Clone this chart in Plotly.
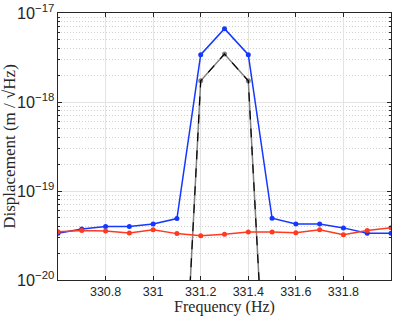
import plotly.graph_objects as go

# ── Data
freq = [330.6, 330.7, 330.8, 330.9, 331.0, 331.1, 331.2, 331.3,
        331.4, 331.5, 331.6, 331.7, 331.8, 331.9, 332.0]

blue = [3.35e-20, 3.75e-20, 4.0e-20, 4.0e-20, 4.27e-20, 4.9e-20, 3.4e-18, 6.66e-18,
        3.4e-18, 4.94e-20, 4.27e-20, 4.27e-20, 3.85e-20, 3.35e-20, 3.35e-20]

red = [3.49e-20, 3.59e-20, 3.56e-20, 3.38e-20, 3.68e-20, 3.32e-20, 3.15e-20, 3.27e-20,
       3.47e-20, 3.47e-20, 3.40e-20, 3.66e-20, 3.23e-20, 3.59e-20, 3.87e-20]

peak_freq = [331.1, 331.2, 331.3, 331.4, 331.5]
peak = [1.3e-23, 1.73e-18, 3.46e-18, 1.73e-18, 1.9e-23]

xtick_vals = [330.8, 331.0, 331.2, 331.4, 331.6, 331.8]
xtick_text = ["330.8", "331", "331.2", "331.4", "331.6", "331.8"]

BLUE = "#1438ff"
RED = "#ff3a1f"
GRAY = "#808080"

fig = go.Figure()
fig.add_trace(go.Scatter(
    x=peak_freq, y=peak, mode="lines+markers",
    line=dict(color=GRAY, width=1.5),
    marker=dict(color=GRAY, size=5),
))
fig.add_trace(go.Scatter(
    x=peak_freq, y=peak, mode="lines",
    line=dict(color="black", width=1.2, dash="dash"),
))
fig.add_trace(go.Scatter(
    x=freq, y=blue, mode="lines+markers",
    line=dict(color=BLUE, width=1.5),
    marker=dict(color=BLUE, size=5),
))
fig.add_trace(go.Scatter(
    x=freq, y=red, mode="lines+markers",
    line=dict(color=RED, width=1.5),
    marker=dict(color=RED, size=5),
))

axis_common = dict(
    showline=True, linecolor="#262626", linewidth=1, mirror="ticks",
    ticks="inside", ticklen=4, tickcolor="#262626",
    gridcolor="#e3e3e3", gridwidth=1, zeroline=False, automargin=False,
)
tick_font = dict(family="Liberation Sans, Arial, sans-serif", size=12.5, color="#262626")
title_font = dict(family="Liberation Serif, DejaVu Serif, serif", size=16, color="#262626")

fig.update_layout(
    width=415, height=316,
    paper_bgcolor="white", plot_bgcolor="white",
    showlegend=False,
    margin=dict(l=58, r=24, t=13, b=36),
    xaxis=dict(
        range=[330.6, 332.0], tickvals=xtick_vals, ticktext=xtick_text,
        tickfont=tick_font,
        title=dict(text="Frequency (Hz)", standoff=2, font=title_font),
        **axis_common,
    ),
    yaxis=dict(
        type="log", range=[-20, -17], dtick=1, exponentformat="power",
        tickfont=dict(tick_font, size=13),
        title=dict(text="Displacement (m / √Hz)", standoff=3,
                   font=dict(title_font, size=17)),
        minor=dict(dtick="D1", showgrid=True, gridcolor="#d2d2d2", griddash="1px,2px",
                   ticks="inside", ticklen=2, tickcolor="#262626"),
        **axis_common,
    ),
)

# page body has an 8px default margin; drop it so the figure sits at the corner
fig.write_html("out.html", config={"displayModeBar": False},
               post_script="document.body.style.margin='0';")
